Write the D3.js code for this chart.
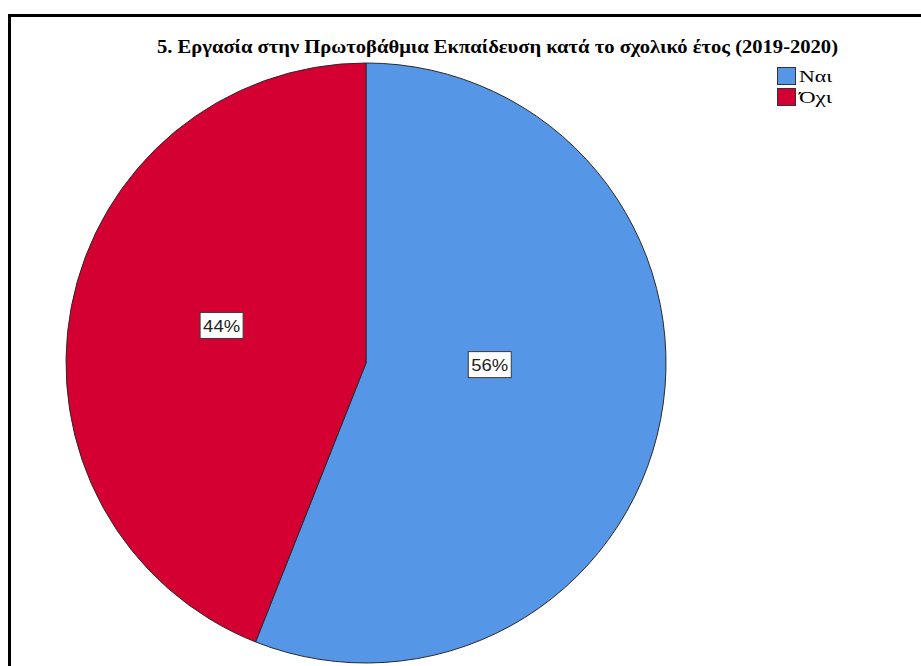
<!DOCTYPE html>
<html>
<head>
<meta charset="utf-8">
<script src="https://cdn.jsdelivr.net/npm/d3@7"></script>
<style>
  html, body { margin: 0; padding: 0; background: #fff; }
  svg { display: block; }
</style>
</head>
<body>
<svg id="chart" width="921" height="666"></svg>
<script>
// Chart content
const chartTitle = "5. Εργασία στην Πρωτοβάθμια Εκπαίδευση κατά το σχολικό έτος (2019-2020)";
const categories = ["Ναι", "Όχι"];
const percents = [56, 44];
const sliceColors = ["#5596E6", "#D50032"];

const W = 921, H = 666;
const svg = d3.select("#chart");

// Outer frame (runs off the right and bottom edges)
svg.append("rect")
  .attr("x", 9.5).attr("y", 15.5)
  .attr("width", 930).attr("height", 680)
  .attr("fill", "none")
  .attr("stroke", "#000")
  .attr("stroke-width", 3);

// Title
svg.append("text")
  .attr("x", 497.5).attr("y", 53)
  .attr("text-anchor", "middle")
  .attr("font-family", "'Liberation Serif', 'Times New Roman', serif")
  .attr("font-weight", "bold")
  .attr("font-size", 18.5)
  .attr("textLength", 681)
  .attr("lengthAdjust", "spacingAndGlyphs")
  .attr("fill", "#000")
  .text(chartTitle);

// Pie
const cx = 366, cy = 363, radius = 300;
const pie = d3.pie().sort(null).value(d => d.value);
const data = categories.map((c, i) => ({ name: c, value: percents[i], color: sliceColors[i] }));
const arcs = pie(data);
const arc = d3.arc().innerRadius(0).outerRadius(radius);

const g = svg.append("g").attr("transform", `translate(${cx},${cy})`);
g.selectAll("path.slice")
  .data(arcs)
  .enter().append("path")
  .attr("class", "slice")
  .attr("d", arc)
  .attr("fill", d => d.data.color)
  .attr("stroke", "#2a2a2a")
  .attr("stroke-width", 1)
  .attr("stroke-linejoin", "round");

// Percentage labels in white boxes
const labelPlacement = [{ r: 0.42, dy: -22 }, { r: 0.49, dy: -10 }];
arcs.forEach((d, i) => {
  const lp = labelPlacement[i];
  const la = d3.arc().innerRadius(radius * lp.r).outerRadius(radius * lp.r);
  const [x, y] = la.centroid(d);
  const lg = g.append("g").attr("transform", `translate(${x},${y + lp.dy})`);
  const bw = 44, bh = 27;
  lg.append("rect")
    .attr("x", -bw / 2 + 0.5).attr("y", -bh / 2 + 0.5)
    .attr("width", bw - 1).attr("height", bh - 1)
    .attr("fill", "#fff")
    .attr("stroke", "#3a3a3a")
    .attr("stroke-width", 1);
  lg.append("text")
    .attr("x", 0).attr("y", 6.5)
    .attr("text-anchor", "middle")
    .attr("font-family", "'Liberation Sans', Arial, sans-serif")
    .attr("font-size", 17)
    .attr("textLength", 37)
    .attr("lengthAdjust", "spacingAndGlyphs")
    .attr("fill", "#222")
    .text(d.data.value + "%");
});

// Legend
const legend = svg.append("g").attr("transform", "translate(777,67)");
categories.forEach((c, i) => {
  const row = legend.append("g").attr("transform", `translate(0,${i * 21})`);
  row.append("rect")
    .attr("x", 0.5).attr("y", 0.5)
    .attr("width", 18).attr("height", 17)
    .attr("fill", sliceColors[i])
    .attr("stroke", "#333")
    .attr("stroke-width", 1);
  row.append("text")
    .attr("x", 22).attr("y", 15)
    .attr("font-family", "'Liberation Serif', 'Times New Roman', serif")
    .attr("font-size", 17)
    .attr("textLength", 33)
    .attr("lengthAdjust", "spacingAndGlyphs")
    .attr("fill", "#000")
    .text(c);
});
</script>
</body>
</html>
